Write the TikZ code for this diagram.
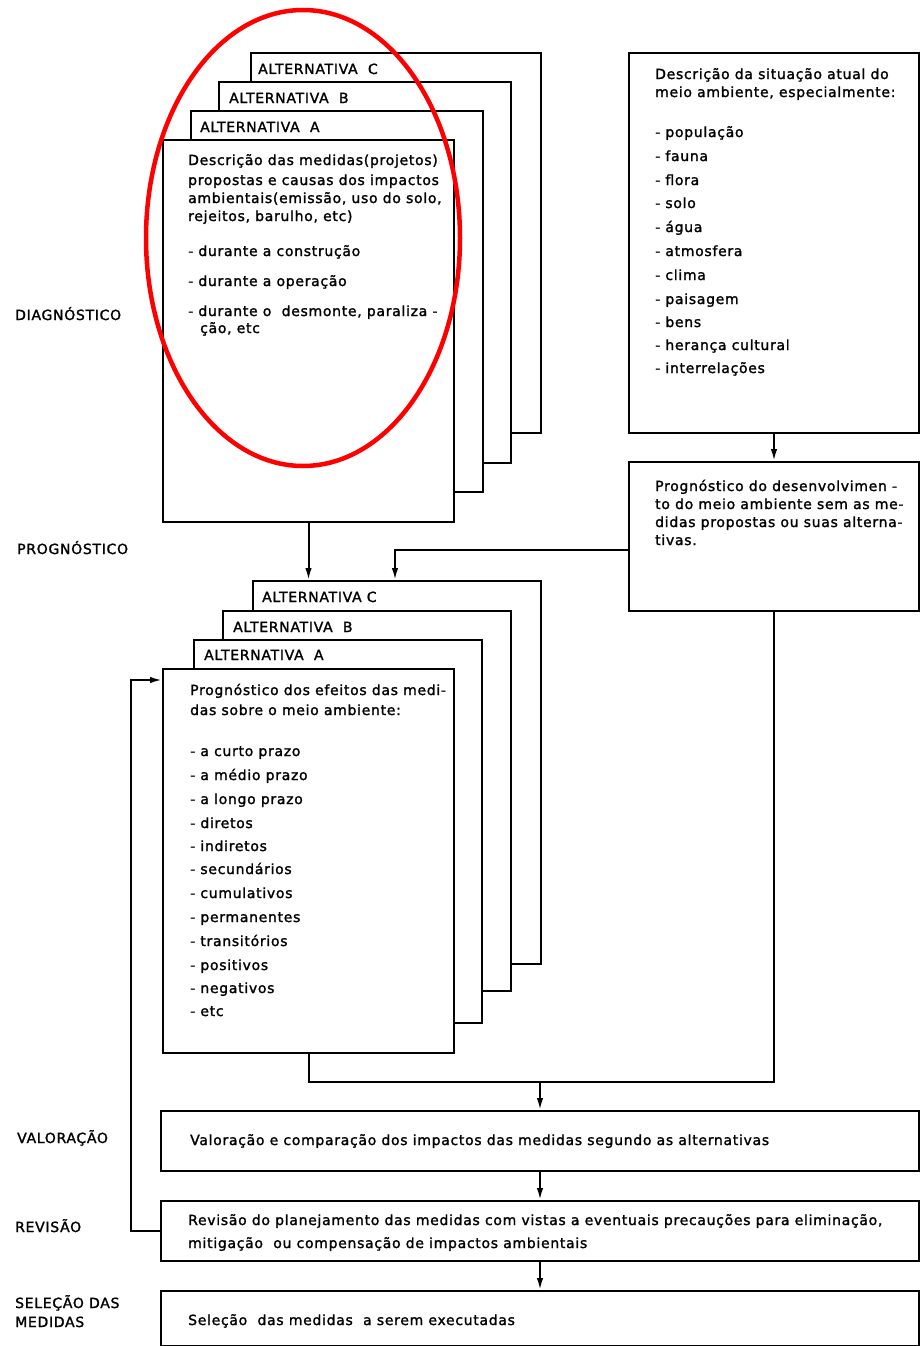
\documentclass[tikz,border=0pt]{standalone}
\usepackage{fontspec}
\setmainfont{DejaVu Sans}[LetterSpace=5, FakeBold=1.5]
\usetikzlibrary{arrows.meta,calc}
\tikzset{
  box/.style={draw=black, line width=2pt, fill=white, anchor=north west, inner sep=0pt},
  txt/.style={anchor=base west, inner sep=0pt, font=\fontsize{14}{17}\selectfont},
  alt/.style={anchor=base west, inner sep=0pt, font=\fontsize{14}{17}\selectfont},
  lbl/.style={anchor=base west, inner sep=0pt, font=\fontsize{14}{17}\selectfont},
  link/.style={line width=2pt},
  arr/.style={line width=2pt, -{Latex[length=12pt,width=6.5pt]}},
}
\newcommand{\rect}[5]{% name, x1, y1, x2, y2
  \node[box, minimum width={(#4-#2)*1pt}, minimum height={(#5-#3)*1pt}] (#1) at (#2,#3) {};}
\begin{document}
\begin{tikzpicture}[x=1pt,y=-1pt]
\useasboundingbox (0,0) rectangle (920,1346);

% ---------- diagnosis: stacked alternatives ----------
\rect{tc}{250}{52}{540}{432}
\node[alt] (tcl) at (258,74) {ALTERNATIVA\ \ C};
\rect{tb}{218}{81}{510}{462}
\node[alt] (tbl) at (229,103) {ALTERNATIVA\ \ B};
\rect{ta}{190}{110}{482}{491}
\node[alt] (tal) at (200,132) {ALTERNATIVA\ \ A};
\rect{tf}{162}{139}{453}{521}
\foreach \y/\t [count=\i] in {
  165/{Descrição das medidas(projetos)},
  185/{propostas e causas dos impactos},
  203/{ambientais(emissão, uso do solo,},
  221/{rejeitos, barulho, etc)},
  256/{- durante a construção},
  286/{- durante a operação},
  316/{- durante o\ \ desmonte, paraliza -}}
  \node[txt] (tft\i) at (188,\y) {\t};
\node[txt] (tft8) at (200,333) {ção, etc};

% ---------- current situation of the environment ----------
\rect{rb1}{628}{52}{918}{432}
\node[txt] (r1a) at (655,79) {Descrição da situação atual do};
\node[txt] (r1b) at (655,97) {meio ambiente, especialmente:};
\foreach \y/\t [count=\i] in {
  137/{- população}, 161/{- fauna}, 185/{- flora}, 208/{- solo},
  232/{- água}, 256/{- atmosfera}, 280/{- clima}, 304/{- paisagem},
  327/{- bens}, 350/{- herança cultural}, 373/{- interrelações}}
  \node[txt] (r1i\i) at (655,\y) {\t};

\rect{rb2}{628}{461}{918}{610}
\foreach \y/\t [count=\i] in {
  491/{Prognóstico do desenvolvimen -},
  509/{to do meio ambiente sem as me-},
  527/{didas propostas ou suas alterna-},
  545/{tivas.}}
  \node[txt] (r2t\i) at (655,\y) {\t};

% ---------- prognosis: stacked alternatives ----------
\rect{lc}{252}{580}{540}{963}
\node[alt] (lcl) at (262,602) {ALTERNATIVA C};
\rect{lb}{222}{610}{510}{990}
\node[alt] (lbl) at (233,632) {ALTERNATIVA\ \ B};
\rect{la}{193}{639}{481}{1022}
\node[alt] (lal) at (204,660) {ALTERNATIVA\ \ A};
\rect{lf}{162}{668}{453}{1052}
\node[txt] (lft1) at (190,695) {Prognóstico dos efeitos das medi-};
\node[txt] (lft2) at (190,715) {das sobre o meio ambiente:};
\foreach \y/\t [count=\i] in {
  756/{- a curto prazo}, 780/{- a médio prazo}, 804/{- a longo prazo},
  828/{- diretos}, 851/{- indiretos}, 874/{- secundários},
  898/{- cumulativos}, 922/{- permanentes}, 946/{- transitórios},
  970/{- positivos}, 993/{- negativos}, 1016/{- etc}}
  \node[txt] (lfi\i) at (190,\y) {\t};

% ---------- evaluation, revision, selection ----------
\rect{val}{160}{1110}{918}{1170}
\node[txt] (valt) at (190,1145) {Valoração e comparação dos impactos das medidas segundo as alternativas};
\rect{rev}{160}{1200}{918}{1260}
\node[txt] (revt1) at (188,1225) {Revisão do planejamento das medidas com vistas a eventuais precauções para eliminação,};
\node[txt] (revt2) at (188,1248) {mitigação\ \ ou compensação de impactos ambientais};
\rect{sel}{160}{1290}{918}{1345}
\node[txt] (selt) at (188,1325) {Seleção\ \ das medidas\ \ a serem executadas};

% ---------- phase labels ----------
\node[lbl] (l1) at (15,320) {DIAGNÓSTICO};
\node[lbl] (l2) at (17,554) {PROGNÓSTICO};
\node[lbl] (l3) at (17,1143) {VALORAÇÃO};
\node[lbl] (l4) at (15,1232) {REVISÃO};
\node[lbl] (l5) at (15,1308) {SELEÇÃO DAS};
\node[lbl] (l6) at (15,1327) {MEDIDAS};

% ---------- connectors ----------
\draw[arr] (rb1.south) -- (rb2.north);
\draw[arr] (tf.south) -- (tf.south |- lc.north);
\draw[arr] ([yshift=-13pt]rb2.west) -| ([xshift=143pt]lc.north west);
\coordinate (m) at (val.north |- 0,1082);
\draw[link] (lf.south) |- (rb2.south |- m) -- (rb2.south);
\draw[arr] (m) -- (val.north);
\draw[arr] (val.south) -- (rev.north);
\draw[arr] (rev.south) -- (sel.north);
\draw[arr] (rev.west) -- ++(-29,0) |- ([yshift=-12pt]lf.north west);

% ---------- highlight ----------
\draw[red, line width=4.5pt] (303,238) ellipse [x radius=157, y radius=228];
\end{tikzpicture}
\end{document}
